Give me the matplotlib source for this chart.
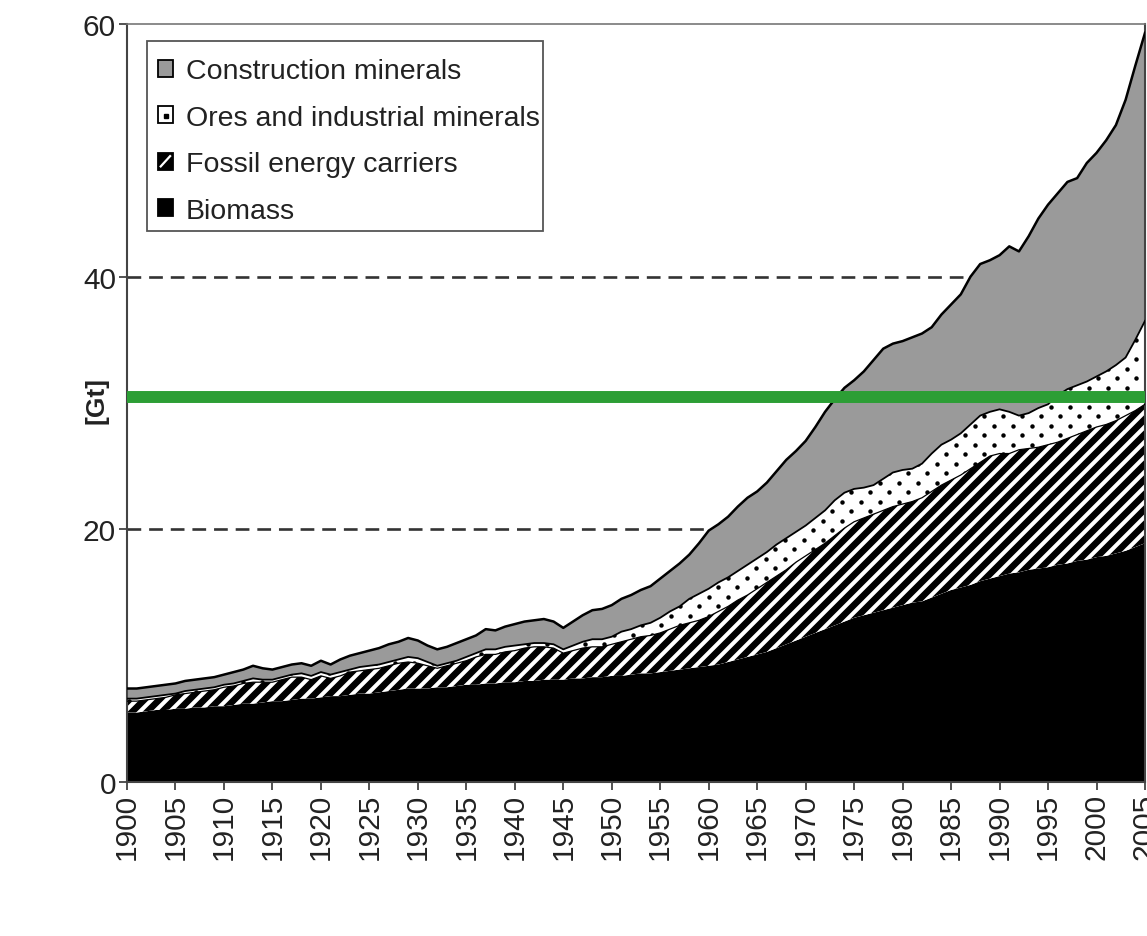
import numpy as np
import matplotlib
matplotlib.use("Agg")
import matplotlib.pyplot as plt
import matplotlib.patches as mpatches
from matplotlib.collections import LineCollection
from matplotlib.legend_handler import HandlerBase
from matplotlib.lines import Line2D
from matplotlib.path import Path
from matplotlib.transforms import IdentityTransform

plt.rcParams["font.family"] = ["Liberation Sans", "DejaVu Sans"]

years = list(range(1900, 2006))

biomass = [
    5.5, 5.5, 5.6, 5.7, 5.7, 5.8, 5.8, 5.9, 5.9, 6.0,
    6.0, 6.1, 6.2, 6.2, 6.3, 6.4, 6.4, 6.5, 6.6, 6.6,
    6.7, 6.8, 6.8, 6.9, 7.0, 7.0, 7.1, 7.2, 7.3, 7.4,
    7.4, 7.4, 7.5, 7.5, 7.6, 7.7, 7.7, 7.8, 7.8, 7.9,
    7.9, 8.0, 8.0, 8.1, 8.1, 8.1, 8.2, 8.2, 8.3, 8.3,
    8.4, 8.4, 8.5, 8.6, 8.6, 8.7, 8.8, 8.9, 9.0, 9.1,
    9.2, 9.3, 9.5, 9.7, 9.9, 10.1, 10.3, 10.6, 10.9, 11.2,
    11.5, 11.8, 12.1, 12.4, 12.7, 13.0, 13.2, 13.4, 13.6, 13.8,
    14.0, 14.2, 14.3, 14.6, 14.9, 15.2, 15.4, 15.6, 15.9, 16.1,
    16.3, 16.5, 16.6, 16.8, 16.9, 17.0, 17.2, 17.3, 17.5, 17.6,
    17.8, 17.9, 18.1, 18.3, 18.6, 18.9,
]

fossil = [
    0.9, 0.9, 0.9, 0.9, 1.0, 1.1, 1.2, 1.2, 1.3, 1.3,
    1.5, 1.5, 1.6, 1.7, 1.6, 1.5, 1.7, 1.8, 1.7, 1.5,
    1.7, 1.4, 1.6, 1.8, 1.8, 1.9, 1.9, 2.0, 2.1, 2.1,
    2.0, 1.8, 1.5, 1.7, 1.8, 1.9, 2.2, 2.3, 2.3, 2.4,
    2.5, 2.6, 2.7, 2.6, 2.5, 2.1, 2.2, 2.4, 2.4, 2.4,
    2.5, 2.7, 2.8, 2.9, 3.0, 3.1, 3.3, 3.5, 3.6, 3.7,
    3.9, 4.2, 4.4, 4.7, 4.9, 5.2, 5.5, 5.7, 5.9, 6.2,
    6.4, 6.6, 6.8, 7.1, 7.4, 7.6, 7.7, 7.8, 7.9, 8.0,
    8.0, 8.0, 8.2, 8.4, 8.6, 8.7, 8.9, 9.2, 9.4, 9.7,
    9.7, 9.5, 9.7, 9.6, 9.6, 9.7, 9.7, 9.9, 10.0, 10.2,
    10.3, 10.4, 10.5, 10.7, 10.8, 11.0,
]

ores = [
    0.2, 0.2, 0.2, 0.2, 0.2, 0.1, 0.2, 0.2, 0.2, 0.2,
    0.2, 0.2, 0.2, 0.3, 0.2, 0.2, 0.2, 0.2, 0.3, 0.3,
    0.3, 0.3, 0.3, 0.2, 0.3, 0.3, 0.3, 0.3, 0.3, 0.4,
    0.4, 0.3, 0.2, 0.2, 0.2, 0.3, 0.3, 0.4, 0.4, 0.4,
    0.4, 0.3, 0.3, 0.3, 0.3, 0.3, 0.4, 0.5, 0.6, 0.6,
    0.6, 0.8, 0.8, 0.9, 1.0, 1.2, 1.4, 1.5, 1.9, 2.1,
    2.2, 2.3, 2.3, 2.3, 2.4, 2.4, 2.4, 2.5, 2.5, 2.4,
    2.4, 2.5, 2.6, 2.8, 2.8, 2.6, 2.4, 2.3, 2.5, 2.7,
    2.7, 2.6, 2.7, 3.0, 3.2, 3.2, 3.3, 3.5, 3.7, 3.5,
    3.5, 3.3, 2.7, 2.8, 3.1, 3.2, 3.7, 3.9, 3.9, 3.9,
    4.0, 4.2, 4.4, 4.6, 5.6, 6.6,
]

construction = [
    0.8, 0.8, 0.8, 0.8, 0.8, 0.8, 0.8, 0.8, 0.8, 0.8,
    0.8, 0.9, 0.9, 1.0, 0.9, 0.8, 0.8, 0.8, 0.8, 0.8,
    0.9, 0.8, 1.0, 1.1, 1.1, 1.2, 1.3, 1.4, 1.4, 1.5,
    1.4, 1.3, 1.3, 1.3, 1.4, 1.4, 1.4, 1.6, 1.5, 1.6,
    1.7, 1.8, 1.8, 1.9, 1.8, 1.7, 1.9, 2.1, 2.3, 2.4,
    2.5, 2.6, 2.7, 2.8, 2.9, 3.1, 3.2, 3.4, 3.5, 4.0,
    4.6, 4.6, 4.8, 5.1, 5.3, 5.3, 5.5, 5.8, 6.2, 6.4,
    6.7, 7.2, 7.8, 8.0, 8.3, 8.6, 9.2, 9.9, 10.3, 10.2,
    10.2, 10.4, 10.3, 10.0, 10.3, 10.7, 11.0, 11.7, 12.0, 12.0,
    12.2, 13.1, 13.0, 14.0, 15.0, 15.8, 16.0, 16.4, 16.4, 17.3,
    17.7, 18.3, 19.0, 20.4, 21.7, 22.8,
]

series_labels = ["Biomass", "Fossil energy carriers",
                 "Ores and industrial minerals", "Construction minerals"]
year_ticks = list(range(1900, 2006, 5))
gt_ticks = [0, 20, 40, 60]
reference_levels = [20, 40]
green_level = 30.5

W, H = 1147, 937
fig = plt.figure(figsize=(W / 100, H / 100), dpi=100)
ax = fig.add_axes([127 / W, 1 - 783 / H, (1145 - 127) / W, (783 - 25) / H])
ax.set_xlim(1900, 2005)
ax.set_ylim(0, 60)

x = np.array(years)
layers = [np.array(biomass), np.array(fossil), np.array(ores), np.array(construction)]
tops = np.cumsum(layers, axis=0)
bottoms = np.vstack([np.zeros_like(tops[0]), tops[:-1]])

face_colors = ["black", "white", "white", "#9a9a9a"]
fills = []
for lo, hi, fc in zip(bottoms, tops, face_colors):
    fills.append(ax.fill_between(x, lo, hi, facecolor=fc, linewidth=0, zorder=2))


def region_path(coll):
    return Path.make_compound_path(*coll.get_paths())


# diagonal stripe texture for fossil energy carriers (pixel space, clipped)
step = 15.0
offsets = np.arange(-H - 20, W + 20, step)
segs = [[(c, -10), (c + H + 20, H + 10)] for c in offsets]
stripes = LineCollection(segs, colors="black", linewidths=4.7,
                         transform=IdentityTransform(), zorder=2.1)
ax.add_collection(stripes, autolim=False)
stripes.set_clip_path(region_path(fills[1]), ax.transData)

# dot texture for ores and industrial minerals
dx, dy = 19.0, 9.5
pts = []
for i, yy in enumerate(np.arange(140, H, dy)):
    shift = 0 if i % 2 == 0 else dx / 2
    for xx in np.arange(110 + shift, W + 10, dx):
        pts.append((xx, yy))
pts = np.array(pts)
dots, = ax.plot(pts[:, 0], pts[:, 1], linestyle="none", marker="o",
                markersize=3.2, color="black", markeredgewidth=0,
                transform=IdentityTransform(), zorder=2.1)
dots.set_clip_path(region_path(fills[2]), ax.transData)

# boundary lines between the upper layers
ax.plot(x, tops[1], color="black", lw=0.9, zorder=3)
ax.plot(x, tops[2], color="black", lw=1.3, zorder=3)
ax.plot(x, tops[3], color="black", lw=1.8, zorder=3)

for lvl in reference_levels:
    ax.axhline(lvl, color="#333333", lw=1.9, dashes=(5.2, 3.0), zorder=1)

ax.axhline(green_level, color="#2c9e35", lw=8.6, zorder=4, solid_capstyle="butt")

ax.set_xticks(year_ticks)
ax.set_xticklabels([str(y) for y in year_ticks], rotation=90)
ax.set_yticks(gt_ticks)

for side in ["left", "right", "top", "bottom"]:
    ax.spines[side].set_color("#444444")
    ax.spines[side].set_linewidth(1.5)
ax.spines["top"].set_color("#777777")
ax.spines["top"].set_linewidth(1.2)

ax.tick_params(axis="both", direction="out", length=6, width=1.3,
               color="#444444", labelsize=21.5, labelcolor="#222222", pad=2)

ax.text(-0.03, 0.504, "[Gt]", transform=ax.transAxes, rotation=90,
        ha="center", va="center", fontsize=19, fontweight="bold",
        color="#222222")


class KeyHandler(HandlerBase):
    """Small outlined square key; 'stripe' adds a white diagonal."""

    def __init__(self, face, stripe=False, dot=False):
        super().__init__()
        self.face = face
        self.stripe = stripe
        self.dot = dot

    def create_artists(self, legend, orig_handle, xdescent, ydescent,
                       width, height, fontsize, trans):
        x0, y0 = -xdescent, -ydescent
        arts = [mpatches.Rectangle((x0, y0), width, height, facecolor=self.face,
                                   edgecolor="black", linewidth=1.3,
                                   transform=trans)]
        if self.stripe:
            arts.append(Line2D([x0 + 0.2 * width, x0 + 0.8 * width],
                               [y0 + 0.2 * height, y0 + 0.8 * height],
                               color="white", lw=1.6, transform=trans))
        if self.dot:
            arts.append(Line2D([x0 + 0.55 * width], [y0 + 0.45 * height],
                               marker="s", ms=2.2, color="black", lw=0,
                               transform=trans))
        return arts


keys = [mpatches.Patch(label=l) for l in series_labels]
handler_map = {
    keys[0]: KeyHandler("black"),
    keys[1]: KeyHandler("black", stripe=True),
    keys[2]: KeyHandler("white", dot=True),
    keys[3]: KeyHandler("#9a9a9a"),
}

leg = ax.legend(keys[::-1], series_labels[::-1], handler_map=handler_map,
                loc="upper left", bbox_to_anchor=(0.0127, 0.978), borderaxespad=0,
                fontsize=20.5, frameon=False,
                handlelength=0.55, handleheight=0.55, handletextpad=0.45,
                labelspacing=0.72, borderpad=0.62)
leg.set_zorder(5)
for t in leg.get_texts():
    t.set_color("#222222")

# legend box (the longest entry runs over its right edge)
box = mpatches.Rectangle((147 / W, 1 - 232 / H), 396 / W, 190 / H,
                         transform=fig.transFigure, facecolor="white",
                         edgecolor="#555555", linewidth=1.3, zorder=4.5)
box.set_clip_on(False)
ax.add_artist(box)

fig.savefig("out.png", dpi=100)
